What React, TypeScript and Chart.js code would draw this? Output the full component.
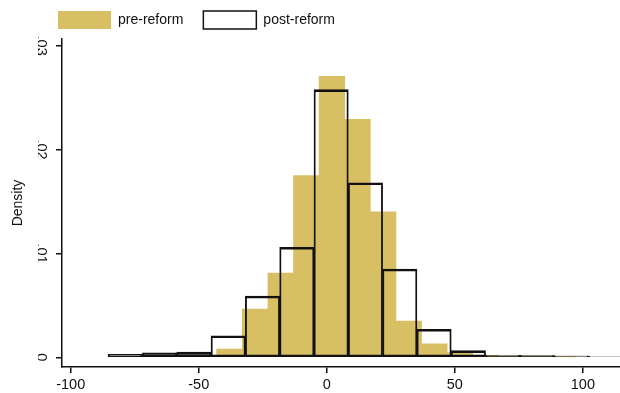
import { useEffect, useRef } from "react";
import { Chart, registerables } from "chart.js";

Chart.register(...registerables);

// Pre-reform histogram: bin centers (width 10) and densities
const preCenters = [-78, -68, -58, -48, -38, -28, -18, -8, 2, 12, 22, 32, 42, 52, 62, 72, 82, 92];
const preDensity = [
  0.0001, 0.0002, 0.0002, 0.0002, 0.0008, 0.00465, 0.0081, 0.0175, 0.02705,
  0.0229, 0.014, 0.0035, 0.0013, 0.00046, 0.0002, 0.0001, 0.0001, 0.00005,
];

// Post-reform histogram: bin centers (width 13.4) and densities
const postCenters = [-78.7, -65.3, -51.9, -38.5, -25.1, -11.7, 1.7, 15.1, 28.5, 41.9, 55.3, 68.7, 82.1, 95.5, 108.9];
const postDensity = [
  0.00029, 0.00044, 0.0005, 0.00208, 0.0059, 0.0106, 0.02577, 0.0168, 0.0085,
  0.0027, 0.00064, 0.0002, 0.0002, 0.00015, 0.0001,
];

const xTicks = [-100, -50, 0, 50, 100];
const xTickLabels = ["-100", "-50", "0", "50", "100"];
const yTicks = [0, 0.01, 0.02, 0.03];
const yTickLabels = ["0", ".01", ".02", ".03"];
const xRange = [-103.4, 114.5];
const yRange = [-0.00093, 0.03064];

const seriesLabels = ["pre-reform", "post-reform"];

export default function App() {
  const ref = useRef<HTMLCanvasElement>(null);

  useEffect(() => {
    if (!ref.current) return;
    const font = { family: "'Liberation Sans', Arial, sans-serif", size: 14 };
    const ink = "#111";
    const gridOpts = {
      offset: false,
      drawOnChartArea: false,
      drawTicks: true,
      tickLength: 6,
      color: ink,
      lineWidth: 1.5,
    };
    const chart = new Chart(ref.current, {
      type: "bar",
      data: {
        datasets: [
          {
            label: seriesLabels[0],
            data: preCenters.map((x, i) => ({ x, y: preDensity[i] })),
            xAxisID: "xPre",
            backgroundColor: "#d8bf64",
            borderWidth: 0,
            grouped: false,
            barPercentage: 1,
            categoryPercentage: 1,
            order: 2,
          },
          {
            label: seriesLabels[1],
            data: postCenters.map((x, i) => ({ x, y: postDensity[i] })),
            xAxisID: "x",
            backgroundColor: "rgba(255,255,255,0)",
            borderColor: ink,
            borderWidth: { top: 2, left: 1.2, bottom: 1.5, right: 1.2 },
            borderSkipped: false,
            grouped: false,
            barPercentage: 1,
            categoryPercentage: 1,
            order: 1,
          },
        ],
      } as any,
      options: {
        animation: false,
        responsive: true,
        maintainAspectRatio: false,
        layout: { padding: { left: 38, top: -9, right: 0, bottom: 0 } },
        plugins: {
          legend: {
            position: "top",
            align: "start",
            labels: {
              boxWidth: 53,
              boxHeight: 18,
              padding: 20,
              font,
              color: ink,
              sort: (a: any, b: any) => a.datasetIndex - b.datasetIndex,
            },
          },
          tooltip: { enabled: false },
        },
        scales: {
          x: {
            type: "linear",
            position: "bottom",
            min: xRange[0],
            max: xRange[1],
            offset: false,
            grid: gridOpts,
            border: { display: true, color: ink, width: 1.5 },
            afterBuildTicks: (s: any) => {
              s.ticks = xTicks.map((v) => ({ value: v }));
            },
            afterFit: (s: any) => {
              s.height = 26;
            },
            ticks: {
              font: { ...font, size: 14.5 },
              color: ink,
              padding: 3,
              maxRotation: 0,
              autoSkip: false,
              callback: (_v: any, i: number) => xTickLabels[i],
            },
          },
          xPre: {
            type: "linear",
            display: false,
            min: xRange[0],
            max: xRange[1],
            offset: false,
            grid: { offset: false },
            afterBuildTicks: (s: any) => {
              s.ticks = xTicks.map((v) => ({ value: v }));
            },
          },
          y: {
            type: "linear",
            min: yRange[0],
            max: yRange[1],
            grid: gridOpts,
            border: { display: true, color: ink, width: 1.5 },
            afterBuildTicks: (s: any) => {
              s.ticks = yTicks.map((v) => ({ value: v }));
            },
            afterFit: (s: any) => {
              s.width = 24;
            },
            ticks: {
              font: { ...font, size: 14.5 },
              color: ink,
              minRotation: -90,
              maxRotation: -90,
              crossAlign: "center",
              padding: 5,
              autoSkip: false,
              callback: (_v: any, i: number) => yTickLabels[i],
            },
            title: {
              display: true,
              text: "Density",
              font,
              color: ink,
              padding: { top: -28, bottom: 0 },
            },
          },
        },
      } as any,
    });
    return () => chart.destroy();
  }, []);

  return (
    <div style={{ position: "fixed", left: 0, top: 0, width: 620, height: 393, background: "#fff" }}>
      <canvas ref={ref} />
    </div>
  );
}
